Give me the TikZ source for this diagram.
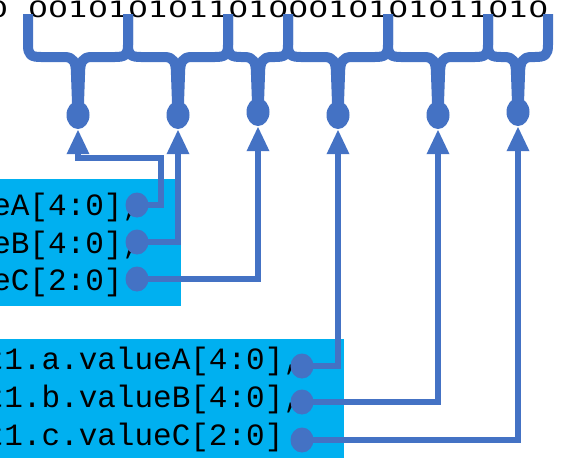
\documentclass[tikz,border=0pt]{standalone}
\usepackage{fontspec}
\usetikzlibrary{arrows.meta,shapes.geometric}
\newfontfamily\bitfont{DejaVu Sans}
\newfontfamily\codefont{Liberation Mono}
\definecolor{bl}{HTML}{4472C4}
\definecolor{cy}{HTML}{00B0F0}
\tikzset{
  brace/.style={draw=bl, line width=10pt, line cap=butt, line join=round},
  bigdot/.style={ellipse, fill=bl, inner sep=0pt, minimum width=23pt, minimum height=28pt},
  smalldot/.style={ellipse, fill=bl, inner sep=0pt, minimum width=23pt, minimum height=25pt},
  conn/.style={draw=bl, line width=6.5pt, -{Triangle[width=21pt,length=25pt]}},
  codetext/.style={anchor=base west, inner sep=0pt, font=\codefont\fontsize{31}{37}\selectfont},
  panel/.style={fill=cy, draw=none}
}
\begin{document}
\begin{tikzpicture}[x=1pt,y=-1pt]
\useasboundingbox (0,0) rectangle (563,458);
\clip (0,0) rectangle (563,458);
% bit string
\node[anchor=base west, inner sep=0pt, font=\bitfont\fontsize{22.5}{27}\selectfont] (bits) at (-12,17.5)
  {\scalebox{1.398}[1]{0\hspace{14.31pt}00101010110100010101011010}};
% braces
\foreach \xl/\xr in {28/128,128/228,228/288,288/388,388/488,488/548}{
  \pgfmathsetmacro{\xm}{(\xl+\xr)/2}
  \draw[brace] (\xl,14) -- (\xl,45) .. controls (\xl,55) and (\xl+3,57) .. (\xl+13,57)
     -- (\xm-14,57) .. controls (\xm-4,57) and (\xm-2,62) .. (\xm-2,75) -- (\xm-1,103);
  \draw[brace] (\xr,14) -- (\xr,45) .. controls (\xr,55) and (\xr-3,57) .. (\xr-13,57)
     -- (\xm+14,57) .. controls (\xm+4,57) and (\xm+2,62) .. (\xm+2,75) -- (\xm+1,103);
}
% big dots
\node[bigdot] (b1) at (78,115) {};
\node[bigdot] (b2) at (178,115) {};
\node[bigdot] (b3) at (258,112) {};
\node[bigdot] (b4) at (338,115) {};
\node[bigdot] (b5) at (438,115) {};
\node[bigdot] (b6) at (518,112) {};
% panels
\fill[panel] (-5,179) rectangle (181,306);
\fill[panel] (-5,339) rectangle (344,463);
% texts
\node[codetext] (ta1) at (-82.3,215) {valueA[4:0],};
\node[codetext] (tb1) at (-82.3,253) {valueB[4:0],};
\node[codetext] (tc1) at (-82.3,290) {valueC[2:0]};
\node[codetext] (ta2) at (-14.4,369) {t1.a.valueA[4:0],};
\node[codetext] (tb2) at (-14.4,407) {t1.b.valueB[4:0],};
\node[codetext] (tc2) at (-14.4,445) {t1.c.valueC[2:0]};
% small dots
\node[smalldot] (s1) at (137,205) {};
\node[smalldot] (s2) at (137,242) {};
\node[smalldot] (s3) at (137,279) {};
\node[smalldot] (s4) at (302,366) {};
\node[smalldot] (s5) at (302,402) {};
\node[smalldot] (s6) at (302,440) {};
% connectors
\coordinate (k1) at (161,158);
\draw[conn] (s1.center) -| (k1) -| (b1.south);
\draw[conn] (s2.center) -| (b2.south);
\draw[conn] (s3.center) -| (b3.south);
\draw[conn] (s4.center) -| (b4.south);
\draw[conn] (s5.center) -| (b5.south);
\draw[conn] (s6.center) -| (b6.south);
\end{tikzpicture}
\end{document}
